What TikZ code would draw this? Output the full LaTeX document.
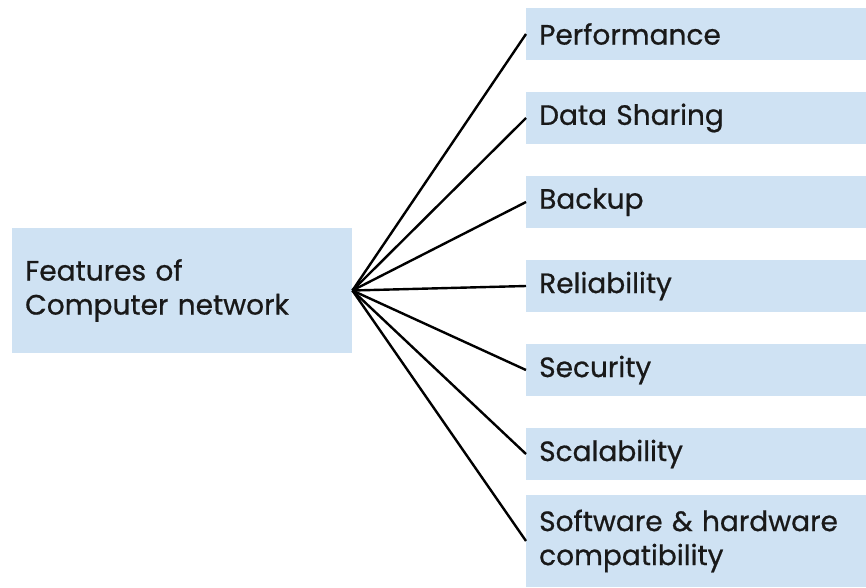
\documentclass[tikz,border=0pt]{standalone}
\usepackage{fontspec}
\newfontfamily\featfont{Poppins}[FakeBold=0.7]
\newcommand\featsize{\featfont\fontsize{28}{34}\selectfont\hyphenpenalty=10000\relax}
\definecolor{boxblue}{HTML}{CFE2F3}

\begin{document}
\begin{tikzpicture}[x=1pt,y=-1pt,
    featbox/.style={fill=boxblue, text=black!90, align=left, anchor=west,
      font=\featsize, text width=316pt, inner xsep=13pt, inner ysep=0pt,
      minimum height=52pt},
    spoke/.style={line width=2.4pt}]
  \useasboundingbox (0,0) rectangle (866,587);

  % main box on the left
  \node[featbox, minimum height=125pt, text width=314pt] (main) at (12,290.5)
    {Features of\\Computer network};

  % one box per feature, 84pt apart
  \foreach \i/\txt in {1/Performance, 2/Data Sharing, 3/Backup,
                       4/Reliability, 5/Security, 6/Scalability} {
    \node[featbox] (f\i) at (526,{34+84*(\i-1)}) {\txt};
    \draw[spoke] (main.east) -- (f\i.west);
  }
  \node[featbox, minimum height=92pt] (f7) at (526,541)
    {Software \& hardware\\compatibility};
  \draw[spoke] (main.east) -- (f7.west);
\end{tikzpicture}
\end{document}
